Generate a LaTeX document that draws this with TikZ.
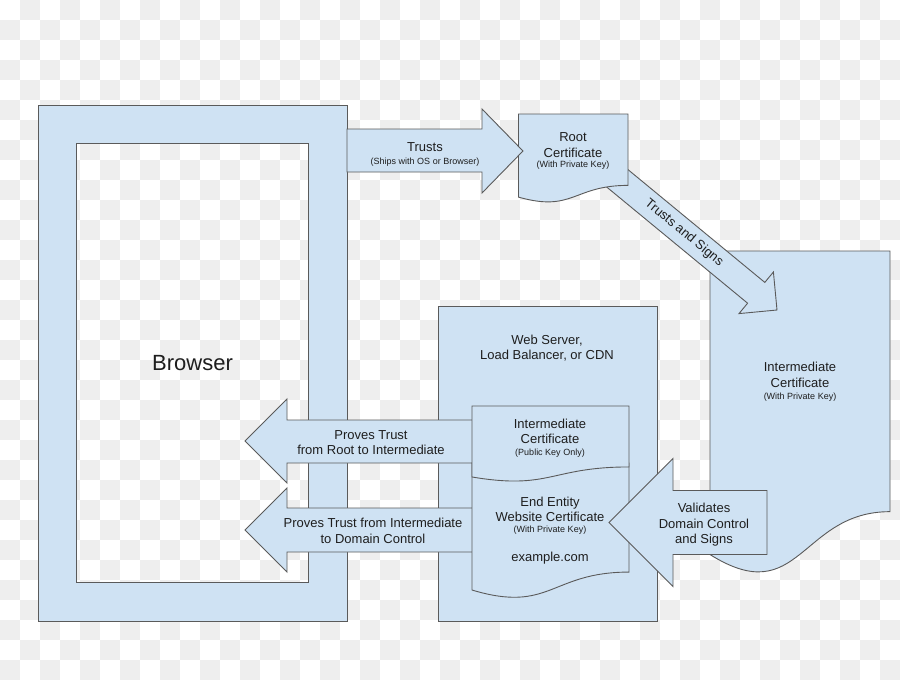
\documentclass[tikz,border=0pt]{standalone}
\usepackage{fontspec}
\setmainfont{Liberation Sans}
\definecolor{fillc}{HTML}{CFE2F3}
\definecolor{linec}{HTML}{5A5A5A}
\definecolor{chk}{HTML}{EEEEEE}
\definecolor{txtc}{HTML}{1E1E1E}
\newcommand\mydoc[4]{%
  \draw[blk] (#1,#2) -- ({#1+#3},#2) -- ({#1+#3},{#2+0.802*#4})
    .. controls ({#1+0.5*#3},{#2+0.802*#4}) and ({#1+0.5*#3},{#2+1.1075*#4}) ..
    (#1,{#2+0.934*#4}) -- cycle;}
\begin{document}
\begin{tikzpicture}[x=1pt,y=-1pt,
  blk/.style={fill=fillc,draw=linec,line width=0.9pt,line join=miter},
  lab/.style={anchor=base,inner sep=0pt,text=txtc,font=\fontsize{13}{15}\selectfont},
  sm/.style={lab,font=\fontsize{9}{11}\selectfont},
  big/.style={lab,font=\fontsize{22}{26}\selectfont}]
\useasboundingbox (0,0) rectangle (900,680);
% checkerboard background
\fill[white] (0,0) rectangle (900,680);
\foreach \i in {0,2,...,44} \foreach \j in {1,3,...,33}
  \fill[chk] ({20*\i},{20*\j}) rectangle ({20*\i+20},{20*\j+20});
\foreach \i in {1,3,...,43} \foreach \j in {0,2,...,32}
  \fill[chk] ({20*\i},{20*\j}) rectangle ({20*\i+20},{20*\j+20});
% browser frame
\path[blk,even odd rule] (38,105) rectangle (347,621) (76,143) rectangle (308,582);
\node[big] (browser) at (192.5,370.7) {Browser};
% intermediate certificate (right)
\mydoc{710}{251}{180}{325}
% diagonal arrow (trusts and signs)
\draw[blk] (610.5,155.2) -- (764.8,282.4) -- (773.4,272.0) -- (777,310)
  -- (739,313.6) -- (747.6,303.2) -- (593.3,176.0) -- cycle;
\node[lab,anchor=center,rotate=-39.5] (tsign) at (684,233) {Trusts and Signs};
% root certificate
\mydoc{518.5}{114}{109.5}{89}
\node[lab] (root1) at (573,141.7) {Root};
\node[lab] (root2) at (573,157.3) {Certificate};
\node[sm] (root3) at (573,167.5) {(With Private Key)};
% trusts arrow
\draw[blk] (347,129) -- (482,129) -- (482,109) -- (523,151) -- (482,193)
  -- (482,172) -- (347,172) -- cycle;
\node[lab] (trusts1) at (425,151.7) {Trusts};
\node[sm] (trusts2) at (425,164.3) {(Ships with OS or Browser)};
% intermediate text right
\node[lab] (int1) at (800,371.7) {Intermediate};
\node[lab] (int2) at (800,387) {Certificate};
\node[sm] (int3) at (800,399) {(With Private Key)};
% web server box
\draw[blk] (438,306) rectangle (657,621);
\node[lab] (ws1) at (547,344) {Web Server,};
\node[lab] (ws2) at (547,359.5) {Load Balancer, or CDN};
% left arrows
\draw[blk] (480,420) -- (287,420) -- (287,399) -- (245,441) -- (287,483)
  -- (287,463) -- (480,463) -- cycle;
\node[lab] (pt1) at (371,439.3) {Proves Trust};
\node[lab] (pt2) at (371,454.5) {from Root to Intermediate};
\draw[blk] (480,508) -- (287,508) -- (287,488) -- (245,530) -- (287,572)
  -- (287,552) -- (480,552) -- cycle;
\node[lab] (pd1) at (373,527.7) {Proves Trust from Intermediate};
\node[lab] (pd2) at (373,543.3) {to Domain Control};
% end entity certificate
\mydoc{472}{463}{157}{136}
\node[lab] (ee1) at (550,506) {End Entity};
\node[lab] (ee2) at (550,521) {Website Certificate};
\node[sm] (ee3) at (550,532.5) {(With Private Key)};
\node[lab] (ee4) at (550,561.7) {example.com};
% intermediate certificate (inner)
\mydoc{472}{406}{157}{76}
\node[lab] (ii1) at (550,428.3) {Intermediate};
\node[lab] (ii2) at (550,443.3) {Certificate};
\node[sm] (ii3) at (550,455) {(Public Key Only)};
% validates arrow
\draw[blk] (767,490.5) -- (673,490.5) -- (673,458.5) -- (609,522.5) -- (673,586.5)
  -- (673,554.5) -- (767,554.5) -- cycle;
\node[lab] (va1) at (704,512.7) {Validates};
\node[lab] (va2) at (704,528.3) {Domain Control};
\node[lab] (va3) at (704,543.3) {and Signs};
\end{tikzpicture}
\end{document}
